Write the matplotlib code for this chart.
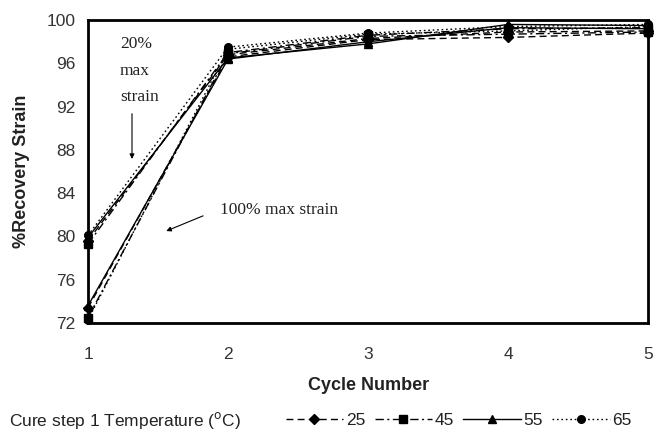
import matplotlib
matplotlib.use('Agg')
import matplotlib.pyplot as plt
from matplotlib.lines import Line2D

plt.rcParams['font.family'] = ['Liberation Sans', 'DejaVu Sans']

# Recovery strain (%) per cure step 1 temperature, cycles 1-5
cycles = [1, 2, 3, 4, 5]
temperatures = ['25', '45', '55', '65']

recovery_20 = {
    '25': [79.6, 96.8, 98.3, 98.9, 99.0],
    '45': [79.3, 97.0, 98.6, 99.2, 99.3],
    '55': [79.9, 96.5, 97.8, 99.6, 99.5],
    '65': [80.1, 97.5, 98.8, 99.4, 99.6],
}
recovery_100 = {
    '25': [73.4, 96.6, 98.2, 98.4, 98.8],
    '45': [72.5, 96.9, 98.5, 98.7, 98.9],
    '55': [73.6, 96.4, 98.0, 99.3, 99.2],
    '65': [72.3, 97.3, 98.7, 99.0, 99.4],
}

styles = {
    '25': dict(linestyle=(0, (5, 3)), marker='D', markersize=5),
    '45': dict(linestyle=(0, (6, 2.5, 1.5, 2.5)), marker='s', markersize=5.5),
    '55': dict(linestyle='-', marker='^', markersize=6),
    '65': dict(linestyle=(0, (1.2, 2)), marker='o', markersize=5.5),
}

fig = plt.figure(figsize=(6.54, 4.37), dpi=100)
ax = fig.add_axes([0.1346, 0.261, 0.8564, 0.693])

for t in temperatures:
    for series in (recovery_20, recovery_100):
        ax.plot(cycles, series[t], color='black', linewidth=1.0,
                markerfacecolor='black', markeredgecolor='black',
                clip_on=False, **styles[t])

ax.set_xlim(1, 5)
ax.set_ylim(72, 100)
ax.set_xticks(cycles)
ax.set_yticks(range(72, 101, 4))
ax.tick_params(length=0, labelsize=12.5, colors='#333333', pad=9)
ax.tick_params(axis='x', pad=17)
for s in ax.spines.values():
    s.set_linewidth(2.0)
    s.set_color('black')

ax.set_xlabel('Cycle Number', fontsize=13, fontweight='bold',
              color='#222222', labelpad=11)
ax.set_ylabel('%Recovery Strain', fontsize=13, fontweight='bold',
              color='#222222', labelpad=12)

# strain level annotations
serif = ['Liberation Serif', 'DejaVu Serif']
ax.text(1.229, 98.5, '20%\nmax\nstrain', family=serif, fontsize=12.5,
        va='top', ha='left', linespacing=1.85, color='#222222')
ax.annotate('', xy=(1.314, 86.9), xytext=(1.314, 91.6),
            arrowprops=dict(arrowstyle='-|>', color='black', lw=0.8,
                            mutation_scale=7))
ax.text(1.94, 82.4, '100% max strain', family=serif, fontsize=12.5,
        va='center', ha='left', color='#222222')
ax.annotate('', xy=(1.54, 80.4), xytext=(1.84, 82.0),
            arrowprops=dict(arrowstyle='-|>', color='black', lw=0.8,
                            mutation_scale=7))

fig.text(0.014, 0.038, 'Cure step 1 Temperature ($^{\\mathrm{o}}$C)',
         fontsize=12.5, color='#222222', va='center')

handles = [Line2D([], [], color='black', linewidth=1.0,
                  markerfacecolor='black', markeredgecolor='black',
                  **styles[t]) for t in temperatures]
fig.legend(handles, temperatures, loc='center left',
           bbox_to_anchor=(0.437, 0.038), ncol=4, frameon=False,
           fontsize=12.5, handlelength=3.3, handletextpad=0.15,
           columnspacing=0.55, borderpad=0, borderaxespad=0,
           labelcolor='#222222')

fig.savefig('out.png', dpi=100)
